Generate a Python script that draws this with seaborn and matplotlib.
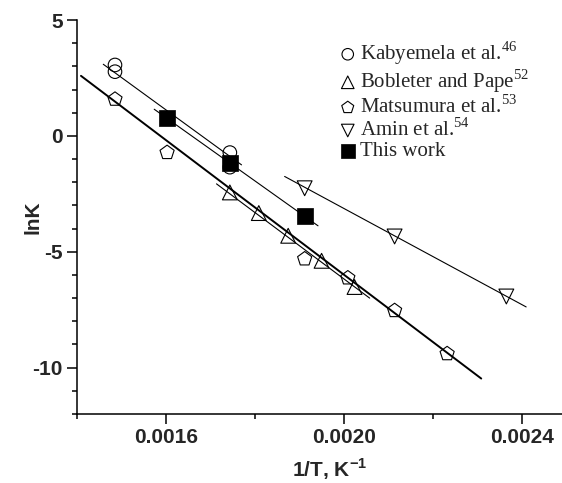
import matplotlib
matplotlib.use("Agg")
import matplotlib.pyplot as plt
import seaborn as sns
import pandas as pd
import numpy as np
from matplotlib.ticker import MultipleLocator

sns.set_style("ticks")
plt.rcParams['font.family'] = ['Liberation Sans', 'DejaVu Sans']
plt.rcParams['axes.unicode_minus'] = False
plt.rcParams['mathtext.fontset'] = 'custom'
plt.rcParams['mathtext.rm'] = 'Liberation Serif'
plt.rcParams['mathtext.bf'] = 'Liberation Sans:bold'

# --- data ---
kab_x = [0.001486, 0.001486, 0.001744, 0.001744]
kab_y = [3.06, 2.77, -0.72, -1.35]
bob_x = [0.001744, 0.001809, 0.001875, 0.001950, 0.002024]
bob_y = [-2.44, -3.33, -4.31, -5.39, -6.52]
mat_x = [0.001486, 0.001603, 0.001912, 0.002009, 0.002114, 0.002232]
mat_y = [1.58, -0.72, -5.31, -6.13, -7.54, -9.40]
amin_x = [0.001912, 0.002114, 0.002365]
amin_y = [-2.26, -4.34, -6.93]
tw_x = [0.001603, 0.001744, 0.001912]
tw_y = [0.76, -1.18, -3.45]

# fitted lines (end points)
kab_fit_x = [0.0014597, 0.0017702]
kab_fit_y = [3.09, -1.25]
tw_fit_x = [0.0015741, 0.001942]
tw_fit_y = [1.15, -3.88]
mat_fit_x = [0.0014096, 0.0023086]
mat_fit_y = [2.59, -10.47]
bob_fit_x = [0.001714, 0.002058]
bob_fit_y = [-2.07, -7.0]
amin_fit_x = [0.001867, 0.0024095]
amin_fit_y = [-1.75, -7.38]

labels = ["Kabyemela et al.$^{46}$", "Bobleter and Pape$^{52}$",
          "Matsumura et al.$^{53}$", "Amin et al.$^{54}$", "This work"]

fig = plt.figure(figsize=(5.62, 4.83), dpi=100)
ax = fig.add_axes([76.7/562, 1-414/483, 1-76.7/562, (414-20)/483])

# lines
for fx, fy, lw in [(kab_fit_x, kab_fit_y, 0.8), (tw_fit_x, tw_fit_y, 0.8),
                   (mat_fit_x, mat_fit_y, 1.4), (bob_fit_x, bob_fit_y, 0.8),
                   (amin_fit_x, amin_fit_y, 0.8)]:
    sns.lineplot(x=fx, y=fy, ax=ax, color='black', lw=lw, sort=False,
                 estimator=None, zorder=2)

ms = 95
sns.scatterplot(x=kab_x, y=kab_y, ax=ax, marker='o', s=ms, facecolor='none',
                edgecolor='black', linewidth=0.8, label=labels[0], zorder=3)
sns.scatterplot(x=bob_x, y=bob_y, ax=ax, marker='^', s=ms*1.2, facecolor='none',
                edgecolor='black', linewidth=0.8, label=labels[1], zorder=3)
sns.scatterplot(x=mat_x, y=mat_y, ax=ax, marker='p', s=ms*1.2, facecolor='none',
                edgecolor='black', linewidth=0.8, label=labels[2], zorder=3)
sns.scatterplot(x=amin_x, y=amin_y, ax=ax, marker='v', s=ms*1.2, facecolor='none',
                edgecolor='black', linewidth=0.8, label=labels[3], zorder=3)
sns.scatterplot(x=tw_x, y=tw_y, ax=ax, marker='s', s=ms*1.3, color='black',
                edgecolor='black', linewidth=0.5, label=labels[4], zorder=4)

ax.set_xlim(0.0014, 0.00249)
ax.set_ylim(-12, 5)
ax.xaxis.set_major_locator(MultipleLocator(0.0004))
ax.xaxis.set_minor_locator(MultipleLocator(0.0002))
ax.yaxis.set_major_locator(MultipleLocator(5))
ax.yaxis.set_minor_locator(MultipleLocator(1))
ax.set_xticks([0.0016, 0.0020, 0.0024])
ax.set_xticklabels(["0.0016", "0.0020", "0.0024"])
ax.set_yticks([5, 0, -5, -10])
ax.set_yticklabels(["5", "0", "-5", "-10"])

for s in ['top', 'right']:
    ax.spines[s].set_visible(False)
for s in ['left', 'bottom']:
    ax.spines[s].set_linewidth(1.1)
    ax.spines[s].set_color('black')
ax.tick_params(which='major', direction='out', length=7, width=1.1, color='black',
               labelsize=15, pad=3)
ax.tick_params(which='minor', direction='out', length=3.6, width=1.1, color='black')
for t in ax.get_xticklabels() + ax.get_yticklabels():
    t.set_fontweight('bold')

ax.set_xlabel("1/T, K$^{\\mathbf{-1}}$", fontsize=15, fontweight='bold')
ax.set_ylabel("lnK", fontsize=15, fontweight='bold')
ax.xaxis.set_label_coords((330-76.7)/(562-76.7), -0.108)
ax.yaxis.set_label_coords(-0.07, 0.5)

leg = ax.legend(loc='upper left', bbox_to_anchor=((329-76.7)/(562-76.7), (20-31)/394 + 1),
                frameon=False, prop={'family': 'Liberation Serif', 'size': 15},
                handletextpad=0.1, labelspacing=0.02, borderaxespad=0,
                handlelength=1.0, markerscale=0.85)
fig.savefig("out.png", dpi=100)
